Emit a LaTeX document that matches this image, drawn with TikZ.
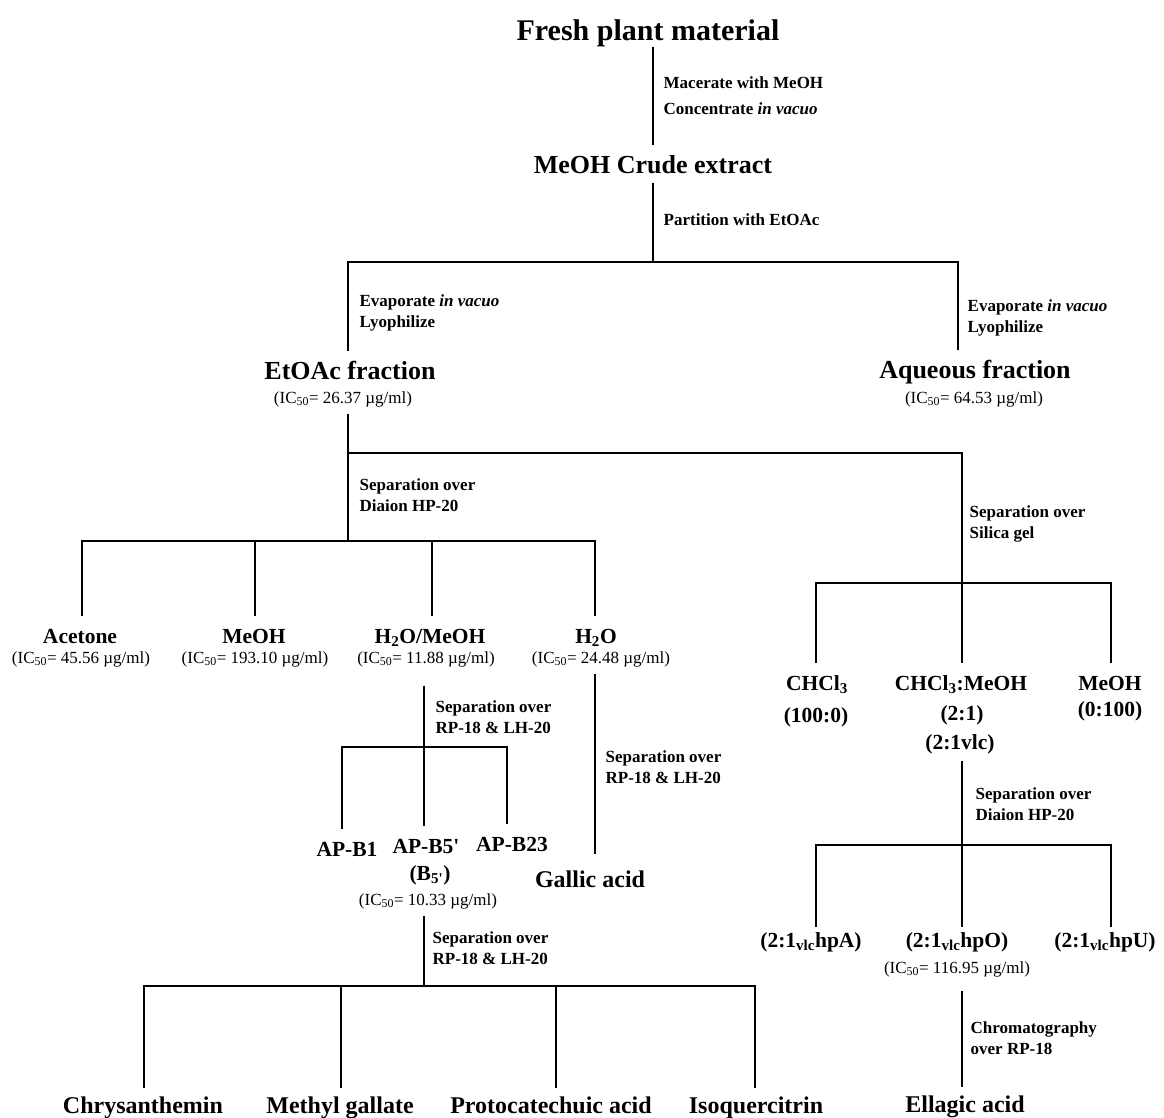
\documentclass[tikz,border=0pt]{standalone}
\usepackage{fontspec}
\setmainfont{Liberation Serif}
\usepackage{tikz}
\tikzset{
    %Define style for the plant material
    plant/.style={
           anchor=base,
           inner sep=0pt,
           text depth=6pt,
           font=\bfseries\fontsize{30}{36}\selectfont},
    %Define style for extracts
    extract/.style={
           anchor=base,
           inner sep=0pt,
           text height=27pt,
           text depth=9pt,
           font=\bfseries\fontsize{26}{31}\selectfont},
    %Define style for fractions
    frac/.style={
           anchor=base,
           inner sep=0pt,
           text height=26pt,
           text depth=11pt,
           font=\bfseries\fontsize{21.5}{26}\selectfont},
    %Define style for pure compounds
    pure/.style={
           anchor=base,
           inner sep=0pt,
           text height=24pt,
           text depth=6pt,
           font=\bfseries\fontsize{24}{29}\selectfont},
    %Define style for IC50 values
    ic/.style={
           anchor=base,
           inner sep=0pt,
           text height=12pt,
           text depth=10pt,
           font=\fontsize{17}{20}\selectfont},
    %Define style for the working steps (placed at the last line)
    cond/.style={
           anchor=base west,
           inner sep=0pt,
           align=left,
           font=\bfseries\fontsize{17}{21}\selectfont}
}

\begin{document}
\begin{tikzpicture}[x=1pt,y=-1pt,line width=1.3pt]
\useasboundingbox (0,0) rectangle (1164,1117);
% extraction and partition
\node[plant](fresh) at (648,40) {Fresh plant material};
\node[cond](mace) at (663,114) {Macerate with MeOH\\[5pt]Concentrate \textit{in vacuo}};
\node[extract](crude) at (653,173) {MeOH Crude extract};
\node[cond](part) at (663,225) {Partition with EtOAc};
\node[cond](evl) at (359,327) {Evaporate \textit{in vacuo}\\Lyophilize};
\node[cond](evr) at (967,332) {Evaporate \textit{in vacuo}\\Lyophilize};
\node[extract](etoac) at (350,379) {EtOAc fraction};
\node[ic](etoacic) at (343,403) {(IC\textsubscript{50}= 26.37 µg/ml)};
\node[extract](aq) at (975,378) {Aqueous fraction};
\node[ic](aqic) at (974,403) {(IC\textsubscript{50}= 64.53 µg/ml)};
\node[cond](sepl) at (359,511) {Separation over\\Diaion HP-20};
\node[cond](sepr) at (969,538) {Separation over\\Silica gel};
% Diaion HP-20 fractions
\node[frac](acet) at (80,643) {Acetone};
\node[ic](acetic) at (81,663) {(IC\textsubscript{50}= 45.56 µg/ml)};
\node[frac](meoh) at (254,643) {MeOH};
\node[ic](meohic) at (255,663) {(IC\textsubscript{50}= 193.10 µg/ml)};
\node[frac](mix) at (430,643) {H\textsubscript{2}O/MeOH};
\node[ic, text depth=22pt](mixic) at (426,663) {(IC\textsubscript{50}= 11.88 µg/ml)};
\node[frac](water) at (596,643) {H\textsubscript{2}O};
\node[ic](wateric) at (601,663) {(IC\textsubscript{50}= 24.48 µg/ml)};
\node[cond](sepm) at (435,733) {Separation over\\RP-18 \& LH-20};
\node[cond](sepw) at (605,783) {Separation over\\RP-18 \& LH-20};
\node[frac](apa) at (347,856) {AP-B1};
\node[frac](apb) at (426,853) {AP-B5\textquotesingle};
\node[frac](apc) at (512,851) {AP-B23};
\node[frac](b5) at (430,880) {(B\textsubscript{5\textquotesingle})};
\node[ic](b5ic) at (428,905) {(IC\textsubscript{50}= 10.33 µg/ml)};
\node[pure, text height=32pt](gallic) at (590,887) {Gallic acid};
\node[cond](sepb) at (432,964) {Separation over\\RP-18 \& LH-20};
\node[pure](chrys) at (143,1113) {Chrysanthemin};
\node[pure](methyl) at (340,1113) {Methyl gallate};
\node[pure](proto) at (551,1113) {Protocatechuic acid};
\node[pure](isoq) at (756,1113) {Isoquercitrin};
% silica gel fractions
\node[frac](chcl) at (817,690) {CHCl\textsubscript{3}};
\node[frac](chclr) at (816,722) {(100:0)};
\node[frac](cm) at (961,690) {CHCl\textsubscript{3}:MeOH};
\node[frac](cmr) at (962,720) {(2:1)};
\node[frac](cmv) at (960,749) {(2:1vlc)};
\node[frac](meohb) at (1110,690) {MeOH};
\node[frac](meohbr) at (1110,716) {(0:100)};
\node[cond](sepv) at (975,820) {Separation over\\Diaion HP-20};
\node[frac, text height=19pt](hpa) at (811,947) {(2:1\textsubscript{vlc}hpA)};
\node[frac, text height=19pt](hpo) at (957,947) {(2:1\textsubscript{vlc}hpO)};
\node[frac, text height=19pt](hpu) at (1105,947) {(2:1\textsubscript{vlc}hpU)};
\node[ic, text depth=17pt](hpoic) at (957,973) {(IC\textsubscript{50}= 116.95 µg/ml)};
\node[cond](chrom) at (970,1054) {Chromatography\\over RP-18};
\node[pure](ellagic) at (965,1112) {Ellagic acid};
% junctions of the bars
\coordinate (b1l) at (348,262);
\coordinate (b1r) at (958,262);
\coordinate (b2l) at (348,453);
\coordinate (b2r) at (962,453);
\coordinate (b3a) at (82,541);
\coordinate (b3b) at (255,541);
\coordinate (b3c) at (432,541);
\coordinate (b3d) at (595,541);
\coordinate (b4a) at (816,583);
\coordinate (b4b) at (962,583);
\coordinate (b4c) at (1111,583);
\coordinate (b5a) at (342,747);
\coordinate (b5b) at (424,747);
\coordinate (b5c) at (507,747);
\coordinate (b6a) at (144,986);
\coordinate (b6b) at (341,986);
\coordinate (b6m) at (424,986);
\coordinate (b6c) at (556,986);
\coordinate (b6d) at (755,986);
\coordinate (b7a) at (816,845);
\coordinate (b7b) at (962,845);
\coordinate (b7c) at (1111,845);
% connectors
\draw (fresh.south -| crude.north) -- (crude.north);
\draw (crude.south) -- (crude.south |- b1l);
\draw (b1l |- etoac.north) -- (b1l) -- (b1r) -- (b1r |- aq.north);
\draw (b2l |- etoacic.south) -- (b2l |- b3a);
\draw (b2l) -- (b2r) -- (b4b);
\draw (b3a |- acet.north) -- (b3a) -- (b3d) -- (b3d |- water.north);
\path
    (b3b) edge (b3b |- meoh.north)
    (b3c) edge (b3c |- mix.north);
\draw (b3d |- wateric.south) -- (b3d |- gallic.north);
\draw (b5b |- mixic.south) -- (b5b |- apb.north);
\draw (b5a |- apa.north) -- (b5a) -- (b5c) -- (b5c |- apc.north);
\draw (b6m |- b5ic.south) -- (b6m);
\draw (b6a |- chrys.north) -- (b6a) -- (b6d) -- (b6d |- isoq.north);
\path
    (b6b) edge (b6b |- methyl.north)
    (b6c) edge (b6c |- proto.north);
\draw (b4a |- chcl.north) -- (b4a) -- (b4c) -- (b4c |- meohb.north);
\path (b4b) edge (b4b |- cm.north);
\draw (b7b |- cmv.south) -- (b7b);
\draw (b7a |- hpa.north) -- (b7a) -- (b7c) -- (b7c |- hpu.north);
\path (b7b) edge (b7b |- hpo.north);
\draw (b7b |- hpoic.south) -- (b7b |- ellagic.north);
\end{tikzpicture}
\end{document}
